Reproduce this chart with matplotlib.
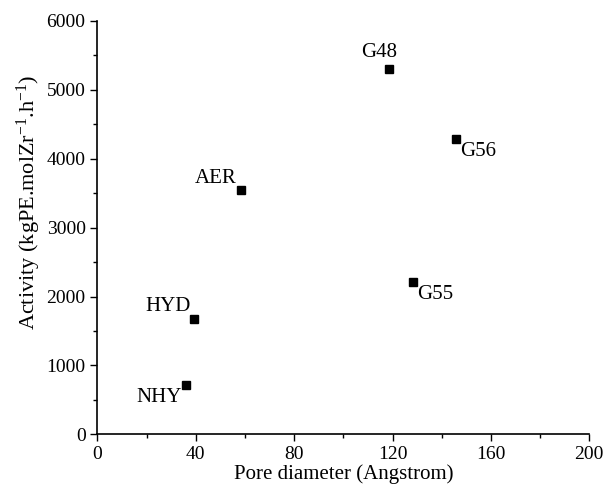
import matplotlib
matplotlib.use("Agg")
import matplotlib.pyplot as plt
from matplotlib.ticker import MultipleLocator

# values
samples = ["NHY", "HYD", "AER", "G48", "G55", "G56"]
pore_diameter = [36.1, 39.1, 58.2, 118.4, 128.5, 145.7]
activity = [715, 1673, 3541, 5306, 2215, 4286]

# label offsets in points (dx, dy, ha, va)
label_pos = {
    "NHY": (-3, -2, "right", "top"),
    "HYD": (-2, 2, "right", "bottom"),
    "AER": (-3, 2, "right", "bottom"),
    "G48": (-7, 5, "center", "bottom"),
    "G55": (3, -2, "left", "top"),
    "G56": (3, -2, "left", "top"),
}

plt.rcParams["font.family"] = ["Liberation Serif", "DejaVu Serif"]
plt.rcParams["mathtext.fontset"] = "custom"
plt.rcParams["mathtext.rm"] = "Liberation Serif"
plt.rcParams["mathtext.it"] = "Liberation Serif:italic"

fig = plt.figure(figsize=(6.05, 4.95), dpi=100)
ax = fig.add_axes([0.161, 0.1226, 0.813, 0.835])

ax.plot(pore_diameter, activity, "s", color="black", markersize=6, linestyle="none")
for name, x, y in zip(samples, pore_diameter, activity):
    dx, dy, ha, va = label_pos[name]
    ax.annotate(name, (x, y), xytext=(dx, dy), textcoords="offset points",
                ha=ha, va=va, fontsize=15)

ax.set_xlim(0, 200)
ax.set_ylim(0, 6000)
ax.xaxis.set_major_locator(MultipleLocator(40))
ax.xaxis.set_minor_locator(MultipleLocator(20))
ax.yaxis.set_major_locator(MultipleLocator(1000))
ax.yaxis.set_minor_locator(MultipleLocator(500))
ax.tick_params(which="major", direction="out", length=5, width=1, labelsize=14)
ax.tick_params(which="minor", direction="out", length=3, width=1)
for side in ["top", "right"]:
    ax.spines[side].set_visible(False)
for side in ["left", "bottom"]:
    ax.spines[side].set_linewidth(1.2)

ax.set_xlabel("Pore diameter (Angstrom)", fontsize=15, labelpad=1)
ax.set_ylabel(r"Activity (kgPE.molZr$^{\mathregular{-1}}$.h$^{\mathregular{-1}}$)",
              fontsize=16, labelpad=4)
ax.yaxis.set_label_coords(-0.11, 0.56)

fig.savefig("out.png", dpi=100)
